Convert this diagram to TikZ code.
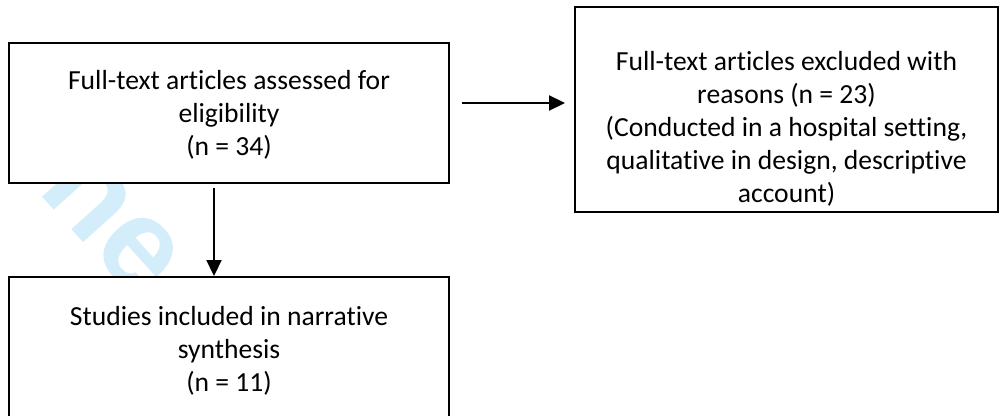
\documentclass[tikz,border=0pt]{standalone}
\usepackage{fontspec}
\setmainfont{Carlito}[Ligatures=NoCommon]
\newfontfamily\wmfont{Liberation Sans}
\usetikzlibrary{arrows.meta}
\definecolor{wmblue}{RGB}{212,237,251}
\begin{document}
\begin{tikzpicture}[x=1pt,y=-1pt,
  box/.style={draw=black, line width=1.9pt, fill=white, inner sep=0pt},
  txt/.style={align=center, font=\fontsize{27.6}{33}\selectfont, inner sep=0pt, anchor=center},
  arr/.style={line width=1.9pt, -{Triangle[length=16pt,width=15pt]}},
  wmark/.style={text=wmblue, inner sep=0pt, font=\wmfont\bfseries\fontsize{128}{128}\selectfont}]
\useasboundingbox (0,0) rectangle (1001,415);
\clip (0,0) rectangle (1001,415);
\fill[white] (0,0) rectangle (1001,415);
\node[wmark, rotate=-48, anchor=base east] (wm) at (137,302) {ne};
\node[box, minimum width=440pt, minimum height=140pt] (b1) at (229,113) {};
\node[box, minimum width=423pt, minimum height=205pt] (b2) at (786.5,109.5) {};
\node[box, minimum width=440pt, minimum height=153pt] (b3) at (229,353.5) {};
\node[txt] (t1) at (229,115) {Full-text articles assessed for\\eligibility\\(n = 34)};
\node[txt] (t2) at (786.5,128.5) {Full-text articles excluded with\\reasons (n = 23)\\(Conducted in a hospital setting,\\qualitative in design, descriptive\\account)};
\node[txt] (t3) at (229,351) {Studies included in narrative\\synthesis\\(n = 11)};
\coordinate (h) at (0,103);
\coordinate (v) at (214,0);
\draw[arr, shorten <=12pt, shorten >=9pt] (b1.east |- h) -- (b2.west |- h);
\draw[arr, shorten <=4pt] (v |- b1.south) -- (v |- b3.north);
\end{tikzpicture}
\end{document}
